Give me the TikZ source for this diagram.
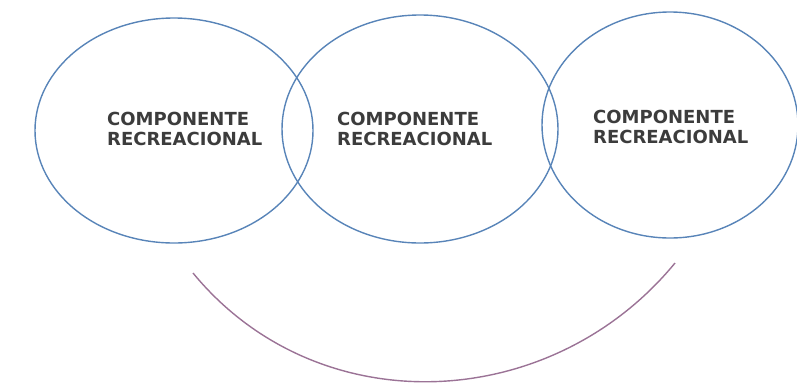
\documentclass[tikz,border=0pt]{standalone}
\usepackage{fontspec}
\newfontfamily\compfont{DejaVu Sans}[BoldFont={DejaVu Sans Bold}]
\usetikzlibrary{shapes.geometric}
\definecolor{ringblue}{RGB}{88,132,184}
\definecolor{arcmauve}{RGB}{155,115,150}
\definecolor{txtgray}{RGB}{60,60,60}
\tikzset{
  ring/.style={draw=ringblue, line width=1.4pt, ellipse, inner sep=0pt},
  comptext/.style={align=left, inner sep=0pt, anchor=west, text=txtgray,
    font=\compfont\bfseries\fontsize{18}{20}\selectfont},
  bowline/.style={draw=arcmauve, line width=1.4pt}
}
\begin{document}
\begin{tikzpicture}[x=1pt,y=-1pt]
\useasboundingbox (0,0) rectangle (797,384);
\node[ring, minimum width=278pt, minimum height=225pt] (e1) at (174,130.5) {};
\node[ring, minimum width=276pt, minimum height=228pt] (e2) at (420,129) {};
\node[ring, minimum width=256pt, minimum height=226pt] (e3) at (670,125) {};
\node[comptext] (t1) at (107,128.5) {COMPONENTE\\RECREACIONAL};
\node[comptext] (t2) at (337,128.5) {COMPONENTE\\RECREACIONAL};
\node[comptext] (t3) at (593,126.5) {COMPONENTE\\RECREACIONAL};
\coordinate (a1) at (193,273);
\coordinate (a2) at (675,263);
\draw[bowline] (a1) .. controls (317.5,424.5) and (550.5,414.5) .. (a2);
\end{tikzpicture}
\end{document}
